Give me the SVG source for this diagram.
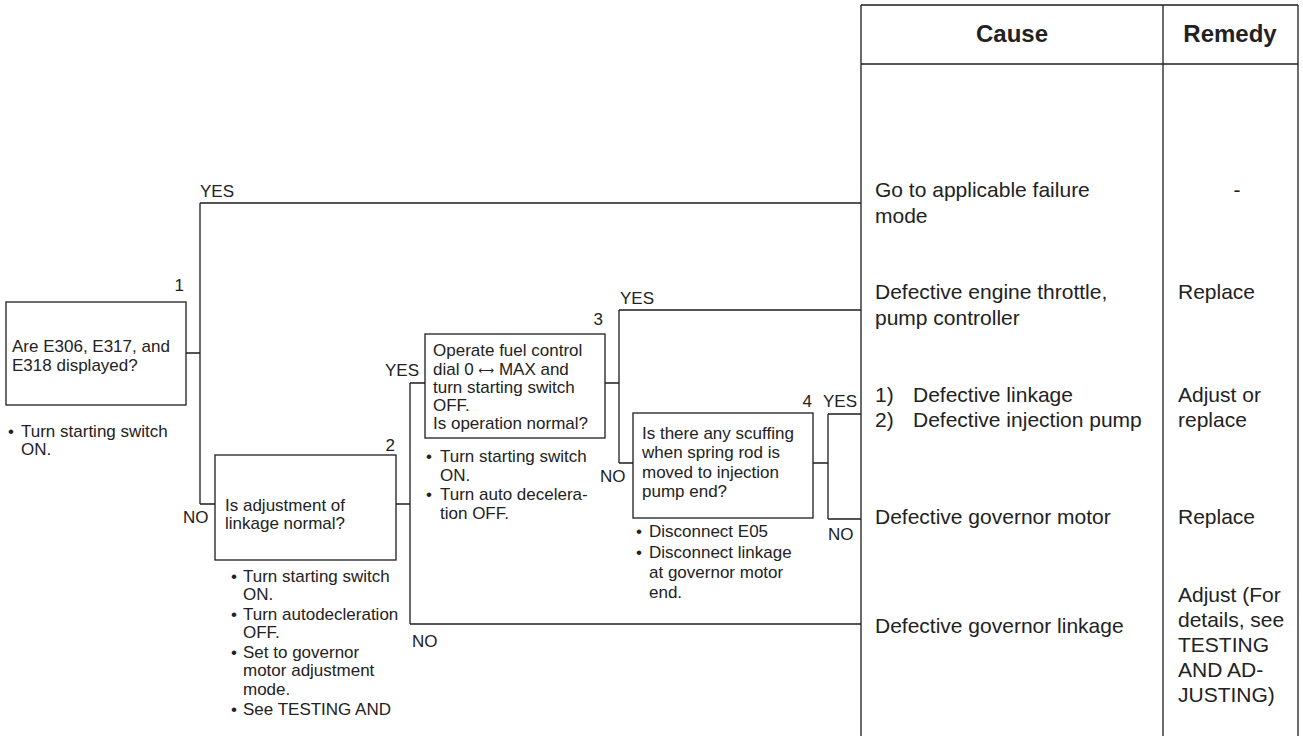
<svg xmlns="http://www.w3.org/2000/svg" width="1303" height="736" viewBox="0 0 1303 736">
  <style>
    .ln { fill: none; stroke: #1e1e1e; stroke-width: 1.3; }
    .box { fill: #ffffff; stroke: #1e1e1e; stroke-width: 1.3; }
    .t { font-family: "Liberation Sans", Arial, sans-serif; font-size: 17px; fill: #222; }
    .tb { font-family: "Liberation Sans", Arial, sans-serif; font-size: 21px; fill: #222; }
    .hd { font-family: "Liberation Sans", Arial, sans-serif; font-size: 24px; font-weight: bold; fill: #222; text-anchor: middle; }
    .num { text-anchor: end; }
    .arr { font-family: "DejaVu Sans", sans-serif; font-size: 11px; }
  </style>
  <rect width="1303" height="736" fill="#ffffff"/>

  <!-- branch lines between the check boxes and the cause table -->
  <g id="connectors">
    <!-- from check 1 -->
    <path class="ln" d="M186 353 H200 M200 203 V504 M200 203 H861 M200 504 H215"/>
    <!-- from check 2 -->
    <path class="ln" d="M396 504 H410 M410 383 V624 M410 383 H425 M410 624 H861"/>
    <!-- from check 3 -->
    <path class="ln" d="M605 383 H619 M619 310 V463 M619 310 H861 M619 463 H633"/>
    <!-- from check 4 -->
    <path class="ln" d="M813 463 H828 M828 414 V519 M828 414 H861 M828 519 H861"/>
    <text class="t" x="200" y="197">YES</text>
    <text class="t" x="183" y="523">NO</text>
    <text class="t" x="385" y="376">YES</text>
    <text class="t" x="412" y="647">NO</text>
    <text class="t" x="620" y="304">YES</text>
    <text class="t" x="600" y="482">NO</text>
    <text class="t" x="823" y="407">YES</text>
    <text class="t" x="828" y="540">NO</text>
  </g>

  <g id="check1">
    <rect class="box" x="6" y="302" width="180" height="103"/>
    <text class="t num" x="184" y="291">1</text>
    <text class="t" x="12" y="352">Are E306, E317, and</text>
    <text class="t" x="12" y="371">E318 displayed?</text>
    <text class="t" x="8" y="437">•</text>
    <text class="t" x="21" y="437">Turn starting switch</text>
    <text class="t" x="21" y="455">ON.</text>
  </g>

  <g id="check2">
    <rect class="box" x="215" y="455" width="181" height="105"/>
    <text class="t num" x="395" y="451">2</text>
    <text class="t" x="225" y="511">Is adjustment of</text>
    <text class="t" x="225" y="529">linkage normal?</text>
    <text class="t" x="231" y="582">•</text>
    <text class="t" x="243" y="582">Turn starting switch</text>
    <text class="t" x="243" y="600">ON.</text>
    <text class="t" x="231" y="620">•</text>
    <text class="t" x="243" y="620">Turn autodecleration</text>
    <text class="t" x="243" y="638">OFF.</text>
    <text class="t" x="231" y="658">•</text>
    <text class="t" x="243" y="658">Set to governor</text>
    <text class="t" x="243" y="676">motor adjustment</text>
    <text class="t" x="243" y="695">mode.</text>
    <text class="t" x="231" y="715">•</text>
    <text class="t" x="243" y="715">See TESTING AND</text>
  </g>

  <g id="check3">
    <rect class="box" x="425" y="334" width="180" height="104"/>
    <text class="t num" x="603" y="325">3</text>
    <text class="t" x="433" y="356">Operate fuel control</text>
    <text class="t" x="433" y="375">dial 0 <tspan class="arr" dy="-1">⟷</tspan><tspan dy="1"> MAX and</tspan></text>
    <text class="t" x="433" y="393">turn starting switch</text>
    <text class="t" x="433" y="411">OFF.</text>
    <text class="t" x="433" y="429">Is operation normal?</text>
    <text class="t" x="426" y="462">•</text>
    <text class="t" x="440" y="462">Turn starting switch</text>
    <text class="t" x="440" y="481">ON.</text>
    <text class="t" x="426" y="500">•</text>
    <text class="t" x="440" y="500">Turn auto decelera-</text>
    <text class="t" x="440" y="519">tion OFF.</text>
  </g>

  <g id="check4">
    <rect class="box" x="633" y="413" width="180" height="105"/>
    <text class="t num" x="812" y="407">4</text>
    <text class="t" x="642" y="439">Is there any scuffing</text>
    <text class="t" x="642" y="458">when spring rod is</text>
    <text class="t" x="642" y="478">moved to injection</text>
    <text class="t" x="642" y="497">pump end?</text>
    <text class="t" x="636" y="537">•</text>
    <text class="t" x="649" y="537">Disconnect E05</text>
    <text class="t" x="636" y="558">•</text>
    <text class="t" x="649" y="558">Disconnect linkage</text>
    <text class="t" x="649" y="578">at governor motor</text>
    <text class="t" x="649" y="598">end.</text>
  </g>

  <!-- cause / remedy table -->
  <g id="table">
    <path class="ln" d="M861 5 H1298 M861 64 H1298 M861 5 V736 M1163 5 V736 M1298 5 V736"/>
    <text class="hd" x="1012" y="42">Cause</text>
    <text class="hd" x="1230" y="42">Remedy</text>
  </g>

  <g id="cause1">
    <text class="tb" x="875" y="197">Go to applicable failure</text>
    <text class="tb" x="875" y="223">mode</text>
    <text class="tb" x="1237" y="197" text-anchor="middle">-</text>
  </g>

  <g id="cause2">
    <text class="tb" x="875" y="299">Defective engine throttle,</text>
    <text class="tb" x="875" y="325">pump controller</text>
    <text class="tb" x="1178" y="299">Replace</text>
  </g>

  <g id="cause3">
    <text class="tb" x="875" y="402">1)</text>
    <text class="tb" x="913" y="402">Defective linkage</text>
    <text class="tb" x="875" y="427">2)</text>
    <text class="tb" x="913" y="427">Defective injection pump</text>
    <text class="tb" x="1178" y="402">Adjust or</text>
    <text class="tb" x="1178" y="427">replace</text>
  </g>

  <g id="cause4">
    <text class="tb" x="875" y="524">Defective governor motor</text>
    <text class="tb" x="1178" y="524">Replace</text>
  </g>

  <g id="cause5">
    <text class="tb" x="875" y="633">Defective governor linkage</text>
    <text class="tb" x="1178" y="602">Adjust (For</text>
    <text class="tb" x="1178" y="627">details, see</text>
    <text class="tb" x="1178" y="652">TESTING</text>
    <text class="tb" x="1178" y="677">AND AD-</text>
    <text class="tb" x="1178" y="702">JUSTING)</text>
  </g>
</svg>
